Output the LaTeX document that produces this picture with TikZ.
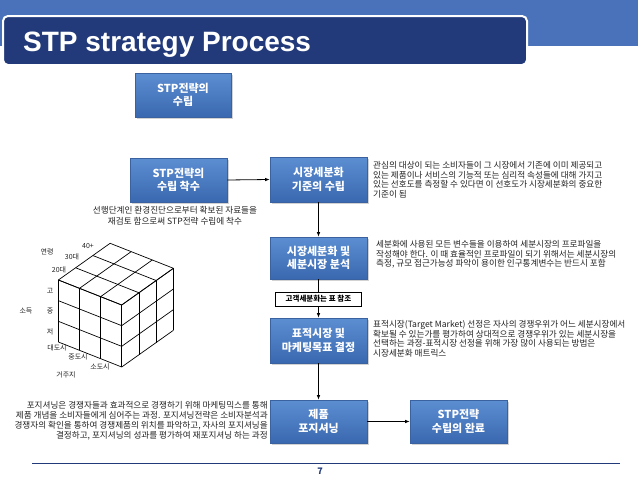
\documentclass[tikz,border=0pt]{standalone}
\usepackage{fontspec}
\newfontfamily\kr{Noto Sans CJK KR}
\newfontfamily\arl{Liberation Sans}
\usetikzlibrary{arrows.meta,shadows,calc}
\definecolor{band}{HTML}{4A72BA}
\definecolor{navy}{HTML}{223A7A}
\definecolor{btop}{HTML}{5C8ED2}
\definecolor{bbot}{HTML}{3A68B0}
\definecolor{bedge}{HTML}{3A62A0}
\definecolor{txt}{HTML}{222222}
\tikzset{
  stepbox/.style={rectangle, top color=btop, bottom color=bbot, draw=bedge, line width=0.6pt,
    text=white, font=\kr\bfseries\fontsize{11}{13.5}\selectfont, align=center, inner sep=0pt,
    drop shadow={opacity=0.35, shadow xshift=1.5pt, shadow yshift=-2pt}},
  labbox/.style={rectangle, draw=black, line width=1pt, fill=white, inner sep=0pt,
    font=\kr\bfseries\fontsize{7.5}{9}\selectfont, text=black},
  desc/.style={text=txt, font=\kr\fontsize{8.6}{9.5}\selectfont, align=left, inner sep=0pt},
  conn/.style={line width=0.8pt, -{Latex[length=4.5pt,width=3.5pt]}},
  plainconn/.style={line width=0.8pt},
  cubelab/.style={text=txt, font=\kr\fontsize{7}{8}\selectfont, inner sep=0pt},
  cubeline/.style={line width=0.7pt, black},
}
\begin{document}
\begin{tikzpicture}[x=1pt,y=-1pt]
\useasboundingbox (0,0) rectangle (638,479);
\fill[white] (0,0) rectangle (638,479);
% header
\fill[band] (0,0) rectangle (638,46);
\draw[white, line width=2pt, fill=navy, rounded corners=5pt] (3,16) rectangle (527,65);
\node[anchor=base west, inner sep=0pt, text=white, font=\arl\bfseries\fontsize{28}{30}\selectfont] (title) at (23,52) {STP strategy Process};

% boxes
\node[stepbox, minimum width=96pt, minimum height=44pt] (b1) at (183,95) {STP전략의\\수립};
\node[stepbox, minimum width=97pt, minimum height=44pt] (b2) at (178.5,180) {STP전략의\\수립 착수};
\node[stepbox, minimum width=97pt, minimum height=45pt] (b3) at (318.5,179.5) {시장세분화\\기준의 수립};
\node[stepbox, minimum width=97pt, minimum height=42pt] (b4) at (318.5,258) {시장세분화 및\\세분시장 분석};
\node[labbox, minimum width=86pt, minimum height=14pt] (lab) at (318.5,299) {고객세분화는 표 참조};
\node[stepbox, minimum width=97pt, minimum height=45pt] (b5) at (318.5,340.5) {표적시장 및\\마케팅목표 결정};
\node[stepbox, minimum width=97pt, minimum height=43pt] (b6) at (318.5,421.5) {제품\\포지셔닝};
\node[stepbox, minimum width=97pt, minimum height=43pt] (b7) at (458.5,421.5) {STP전략\\수립의 완료};

% connectors
\draw[conn] (b2.east) -- (b3.west);
\draw[conn] (b3.south) -- (b4.north);
\draw[plainconn] (b4.south) -- (lab.north);
\draw[conn] (lab.south) -- (b5.north);
\draw[conn] (b5.south) -- (b6.north);
\draw[conn] (b6.east) -- (b7.west);

% descriptions
\node[desc, anchor=north] (cap) at (175,206) {\begin{tabular}{@{}c@{}}선행단계인 환경진단으로부터 확보된 자료들을\\[1.5pt]재검토 함으로써 STP전략 수립에 착수\end{tabular}};
\node[desc, anchor=north west] (d3) at (373,161.5) {관심의 대상이 되는 소비자들이 그 시장에서 기존에 이미 제공되고\\있는 제품이나 서비스의 기능적 또는 심리적 속성들에 대해 가지고\\있는 선호도를 측정할 수 있다면 이 선호도가 시장세분화의 중요한\\기준이 됨};
\node[desc, anchor=north west] (d4) at (376,240.5) {세분화에 사용된 모든 변수들을 이용하여 세분시장의 프로파일을\\작성해야 한다. 이 때 효율적인 프로파일이 되기 위해서는 세분시장의\\측정, 규모 접근가능성 파악이 용이한 인구통계변수는 반드시 포함};
\node[desc, anchor=north west] (d5) at (373,320.5) {표적시장(Target Market) 선정은 자사의 경쟁우위가 어느 세분시장에서\\확보될 수 있는가를 평가하여 상대적으로 경쟁우위가 있는 세분시장을\\선택하는 과정-표적시장 선정을 위해 가장 많이 사용되는 방법은\\시장세분화 매트릭스};
\node[desc, anchor=north east, align=right, font=\kr\fontsize{8.6}{10}\selectfont] (d6) at (268,401.5) {포지셔닝은 경쟁자들과 효과적으로 경쟁하기 위해 마케팅믹스를 통해\\제품 개념을 소비자들에게 심어주는 과정. 포지셔닝전략은 소비자분석과\\경쟁자의 확인을 통하여 경쟁제품의 위치를 파악하고, 자사의 포지셔닝을\\결정하고, 포지셔닝의 성과를 평가하여 재포지셔닝 하는 과정};

% cube
\coordinate (B) at (121.7,305);
\coordinate (w) at (-63.3,-25);
\coordinate (d) at (51.7,-36.7);
\coordinate (h) at (0,62);
\foreach \t in {0,0.3333,0.6667,1}{
  \draw[cubeline] ($(B)+\t*(w)$) -- ($(B)+\t*(w)+(h)$);
  \draw[cubeline] ($(B)+\t*(h)$) -- ($(B)+\t*(h)+(w)$);
  \draw[cubeline] ($(B)+\t*(d)$) -- ($(B)+\t*(d)+(h)$);
  \draw[cubeline] ($(B)+\t*(h)$) -- ($(B)+\t*(h)+(d)$);
  \draw[cubeline] ($(B)+\t*(w)$) -- ($(B)+\t*(w)+(d)$);
  \draw[cubeline] ($(B)+\t*(d)$) -- ($(B)+\t*(d)+(w)$);
}
\node[cubelab] (l1) at (47,252) {연령};
\node[cubelab] (l2) at (88,246) {40+};
\node[cubelab] (l3) at (72,257) {30대};
\node[cubelab] (l4) at (59,270) {20대};
\node[cubelab] (l5) at (50,291) {고};
\node[cubelab] (l6) at (50,311) {중};
\node[cubelab] (l7) at (50,332) {저};
\node[cubelab] (l8) at (26,311) {소득};
\node[cubelab] (l9) at (57,348) {대도시};
\node[cubelab] (l10) at (78,357) {중도시};
\node[cubelab] (l11) at (100,367) {소도시};
\node[cubelab] (l12) at (66,375) {거주지};

% footer
\draw[navy, line width=1pt] (32,463) -- (620,463);
\node[inner sep=0pt, text=navy, font=\kr\bfseries\fontsize{9}{10}\selectfont] (pg) at (320,471) {7};
\end{tikzpicture}
\end{document}
